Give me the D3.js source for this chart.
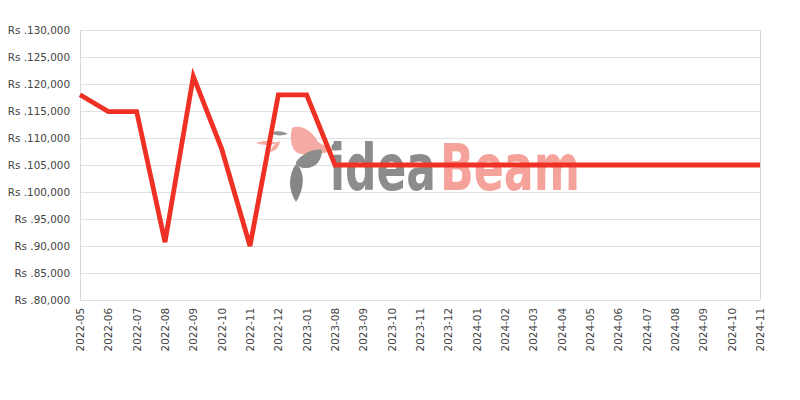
<!DOCTYPE html>
<html><head><meta charset="utf-8">
<script src="https://cdn.jsdelivr.net/npm/d3@7/dist/d3.min.js"></script>
<style>body{margin:0;background:#fff;}svg{display:block;}</style>
</head><body><svg id="c" width="800" height="400"></svg>
<script>
const categories = ["2022-05","2022-06","2022-07","2022-08","2022-09","2022-10","2022-11","2022-12","2023-01","2023-08","2023-09","2023-10","2023-11","2023-12","2024-01","2024-02","2024-03","2024-04","2024-05","2024-06","2024-07","2024-08","2024-09","2024-10","2024-11"];
const prices = [118000,114900,114900,90700,121400,108000,90000,118000,118000,105000,105000,105000,105000,105000,105000,105000,105000,105000,105000,105000,105000,105000,105000,105000,105000];
const yTicks = [80000,85000,90000,95000,100000,105000,110000,115000,120000,125000,130000];
const watermarkWords = ["idea","Beam"];

const svg = d3.select("#c");
const L=80,R=760,T=30,B=300;
const x = d3.scalePoint().domain(categories).range([L,R]);
const y = d3.scaleLinear().domain([80000,130000]).range([B,T]);

// grid
svg.append("g").selectAll("line").data(yTicks).join("line")
  .attr("x1",L).attr("x2",R).attr("y1",d=>y(d)+0.5).attr("y2",d=>y(d)+0.5)
  .attr("stroke","#e0e0e0").attr("stroke-width",1);
svg.append("line").attr("x1",L+0.5).attr("x2",L+0.5).attr("y1",T).attr("y2",B).attr("stroke","#d8d8d8");
svg.append("line").attr("x1",R+0.5).attr("x2",R+0.5).attr("y1",T).attr("y2",B).attr("stroke","#d8d8d8");

// watermark
const wm = svg.append("g").attr("opacity",0.9);
wm.append("path").attr("d","M292,128 C300,124 312,130 318,142 C324,146 330,146 334,150 C322,154 306,158 296,152 C290,146 290,136 292,128 Z").attr("fill","#f5a39b");
wm.append("path").attr("d","M256,143 C264,140 272,141 278,143 C272,145 264,146 256,143 Z").attr("fill","#f5a39b");
wm.append("path").attr("d","M270,152 C272,146 276,142 280,141 C279,147 276,151 270,152 Z").attr("fill","#f5a39b");
wm.append("path").attr("d","M270,133 C276,130 284,131 288,134 C282,136 276,136 270,133 Z").attr("fill","#888");
wm.append("path").attr("d","M296,162 C302,154 314,148 322,150 C322,160 316,168 306,168 C300,168 296,166 296,162 Z").attr("fill","#808080");
wm.append("path").attr("d","M296,202 C288,190 288,175 296,164 C304,170 306,186 296,202 Z").attr("fill","#7a7a7a");
wm.append("circle").attr("cx",335).attr("cy",147).attr("r",3.5).attr("fill","#808080");
function fitWord(word, x0, width, color){
  const g = wm.append("g");
  const t = g.append("text").attr("x",0).attr("y",0)
    .attr("font-family","'DejaVu Sans', sans-serif").attr("font-weight","bold").attr("font-size",64)
    .attr("fill",color).text(word);
  const w = t.node().getComputedTextLength() || width;
  g.attr("transform",`translate(${x0},190) scale(${width/w},1)`);
}
fitWord(watermarkWords[0],330,106,"#808080");
fitWord(watermarkWords[1],440,140,"#f59a90");

// line
svg.append("path").datum(prices)
  .attr("fill","none").attr("stroke","#ee3124").attr("stroke-width",4.8)
  .attr("stroke-linejoin","miter")
  .attr("d", d3.line().x((d,i)=>x(categories[i])).y(d=>y(d)));

// y axis labels
svg.append("g").selectAll("text").data(yTicks).join("text")
  .attr("x",70).attr("y",d=>y(d)+4).attr("text-anchor","end")
  .attr("font-family","'DejaVu Sans', sans-serif").attr("font-size",10.4).attr("fill","#444")
  .text(d=>"Rs ."+d3.format(",")(d));

// x axis labels
svg.append("g").selectAll("text").data(categories).join("text")
  .attr("transform",d=>`translate(${x(d)+4},308) rotate(-90)`)
  .attr("text-anchor","end")
  .attr("font-family","'DejaVu Sans', sans-serif").attr("font-size",10.4).attr("fill","#444")
  .text(d=>d);
</script></body></html>
